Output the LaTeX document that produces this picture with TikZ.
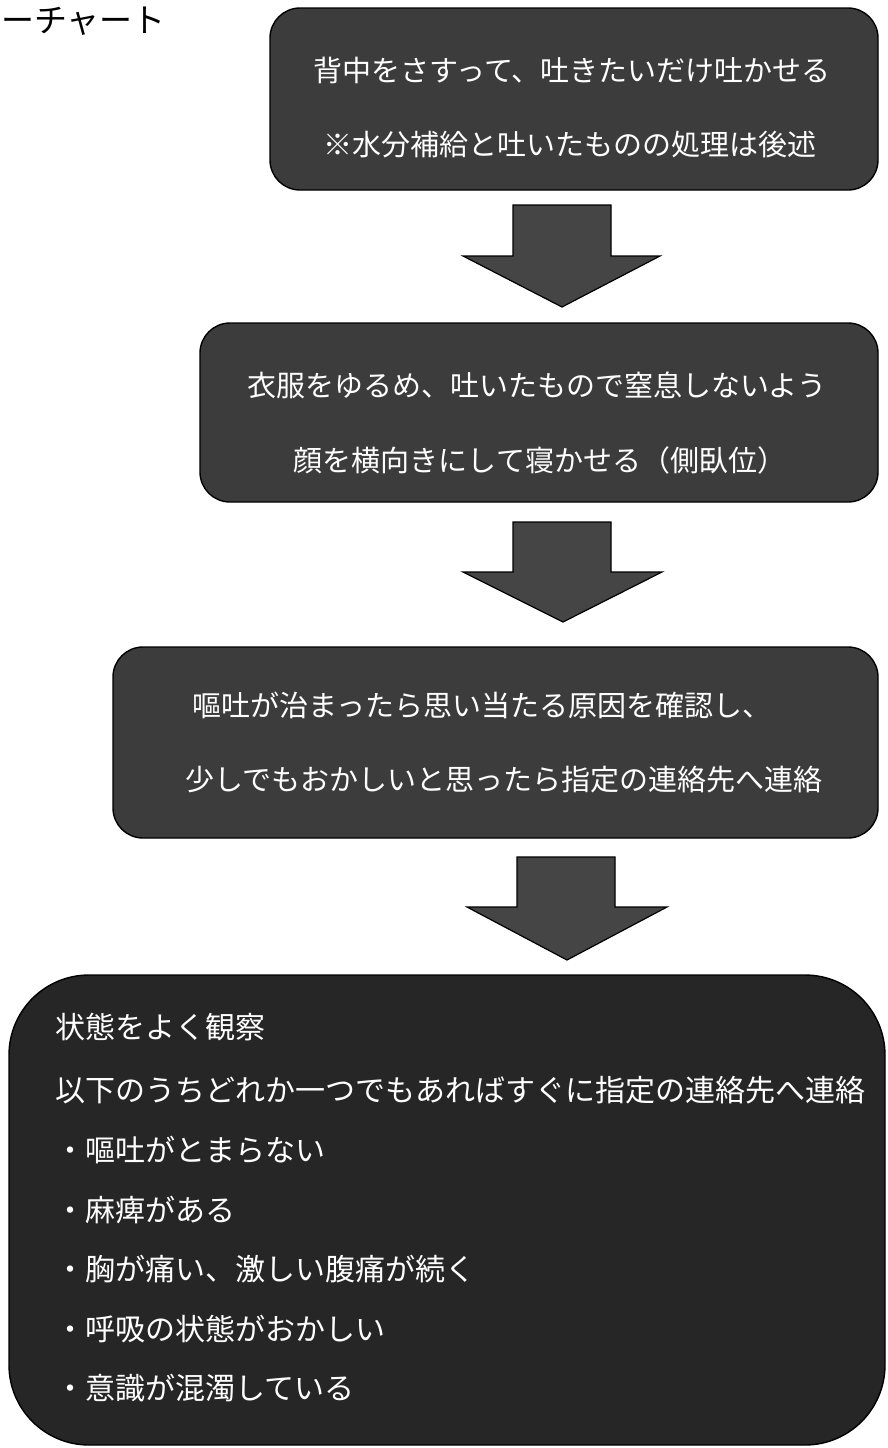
\documentclass[tikz,border=0pt]{standalone}
\usepackage{fontspec}
\setmainfont{Noto Sans CJK JP}
\begin{document}
\begin{tikzpicture}[x=1pt,y=-1pt,
  flowbox/.style={draw=black,line width=1.4pt,fill=boxgray,rounded corners=30pt},
  bigbox/.style={draw=black,line width=1.4pt,fill=darkgray2,rounded corners=80pt},
  blockarrow/.style={draw=black,line width=1.2pt,fill=arrowgray,line join=miter},
  boxtext/.style={text=white,font=\fontsize{29pt}{32pt}\selectfont,inner sep=0pt},
  listtext/.style={text=white,font=\fontsize{30pt}{33pt}\selectfont,inner sep=0pt,anchor=west},
  titletext/.style={text=black,font=\fontsize{33pt}{36pt}\selectfont,inner sep=0pt,anchor=west}
]
\definecolor{boxgray}{HTML}{3C3C3C}
\definecolor{darkgray2}{HTML}{262626}
\definecolor{arrowgray}{HTML}{454545}
\useasboundingbox (0,0) rectangle (888,1448);
\fill[white] (0,0) rectangle (888,1448);

% title
\node[titletext] (title) at (1,21) {ーチャート};

% box 1
\draw[flowbox] (270,8) rectangle (878,190);
\node[boxtext] (t1a) at (572,70) {背中をさすって、吐きたいだけ吐かせる};
\node[boxtext] (t1b) at (570,145) {※水分補給と吐いたものの処理は後述};

% arrow 1
\draw[blockarrow] (513,205) -- (611,205) -- (611,256) -- (660,256) -- (562,307) -- (463,256) -- (513,256) -- cycle;

% box 2
\draw[flowbox] (200,323) rectangle (878,502);
\node[boxtext] (t2a) at (537,385) {衣服をゆるめ、吐いたもので窒息しないよう};
\node[boxtext] (t2b) at (540,460) {顔を横向きにして寝かせる（側臥位）};

% arrow 2
\draw[blockarrow] (513,522) -- (611,522) -- (611,572) -- (662,572) -- (563,622) -- (463,572) -- (513,572) -- cycle;

% box 3
\draw[flowbox] (113,647) rectangle (878,838);
\node[boxtext] (t3a) at (482,705) {嘔吐が治まったら思い当たる原因を確認し、};
\node[boxtext] (t3b) at (504,780) {少しでもおかしいと思ったら指定の連絡先へ連絡};

% arrow 3
\draw[blockarrow] (517,857) -- (615,857) -- (615,907) -- (667,907) -- (567,960) -- (467,907) -- (517,907) -- cycle;

% box 4
\draw[bigbox] (9,975) rectangle (885,1445);
\node[listtext] (l1) at (55,1027) {状態をよく観察};
\node[listtext] (l2) at (55,1090) {以下のうちどれか一つでもあればすぐに指定の連絡先へ連絡};
\node[listtext] (l3) at (55,1150) {・嘔吐がとまらない};
\node[listtext] (l4) at (55,1210) {・麻痺がある};
\node[listtext] (l5) at (55,1269) {・胸が痛い、激しい腹痛が続く};
\node[listtext] (l6) at (55,1329) {・呼吸の状態がおかしい};
\node[listtext] (l7) at (55,1388) {・意識が混濁している};
\end{tikzpicture}
\end{document}
